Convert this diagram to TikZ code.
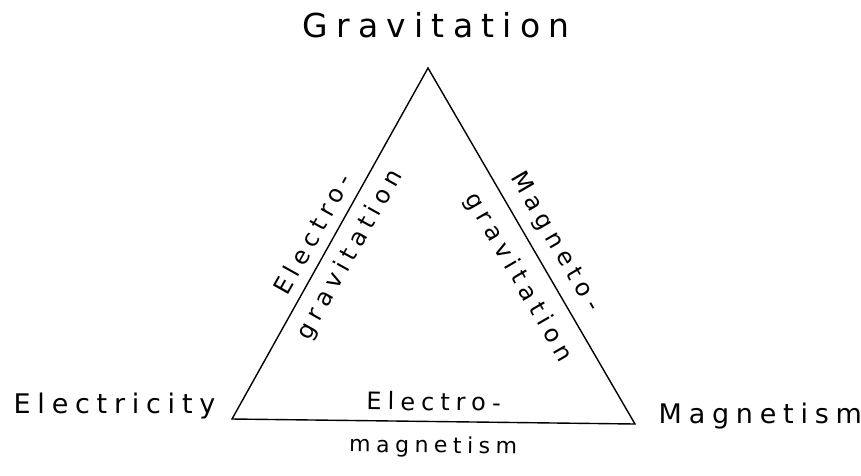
\documentclass[tikz,border=0pt]{standalone}
\usepackage{fontspec}
\newfontfamily\handfont[LetterSpace=25]{DejaVu Sans}
\usetikzlibrary{positioning}

\begin{document}
\begin{tikzpicture}[x=1pt,y=-1pt,line width=1.4pt,line join=miter,
 every node/.style={font=\handfont\fontsize{24}{28}\selectfont,inner sep=2pt},
 cornerlabel/.style={font=\handfont\fontsize{27}{31}\selectfont},
 edgelabel/.style={sloped}]
\useasboundingbox (0,0) rectangle (861,475);
% corners of the triangle
\coordinate (G) at (428,68);
\coordinate (E) at (232,419);
\coordinate (M) at (635,424);
\draw (G) -- (E) -- (M) -- cycle;
% the three forces
\node[cornerlabel,font=\handfont\fontsize{33}{37}\selectfont,anchor=base] (grav) at (436,37) {Gravitation};
\node[cornerlabel,anchor=base east] (elec) at (218,413) {Electricity};
\node[cornerlabel,anchor=base west] (magn) at (656,423) {Magnetism};
% the unions along the sides
\path (E) -- (G) node[edgelabel,midway,above=8pt] (eg1) {Electro-}
 node[edgelabel,midway,below=9pt] (eg2) {gravitation};
\path (G) -- (M) node[edgelabel,pos=0.52,above=8pt] (mg1) {Magneto-}
 node[edgelabel,pos=0.55,below=13pt] (mg2) {gravitation};
\path (E) -- (M) node[edgelabel,midway,above=8pt] (em1) {Electro-}
 node[edgelabel,midway,below=12pt,font=\handfont\fontsize{22}{26}\selectfont] (em2) {magnetism};
\end{tikzpicture}
\end{document}
